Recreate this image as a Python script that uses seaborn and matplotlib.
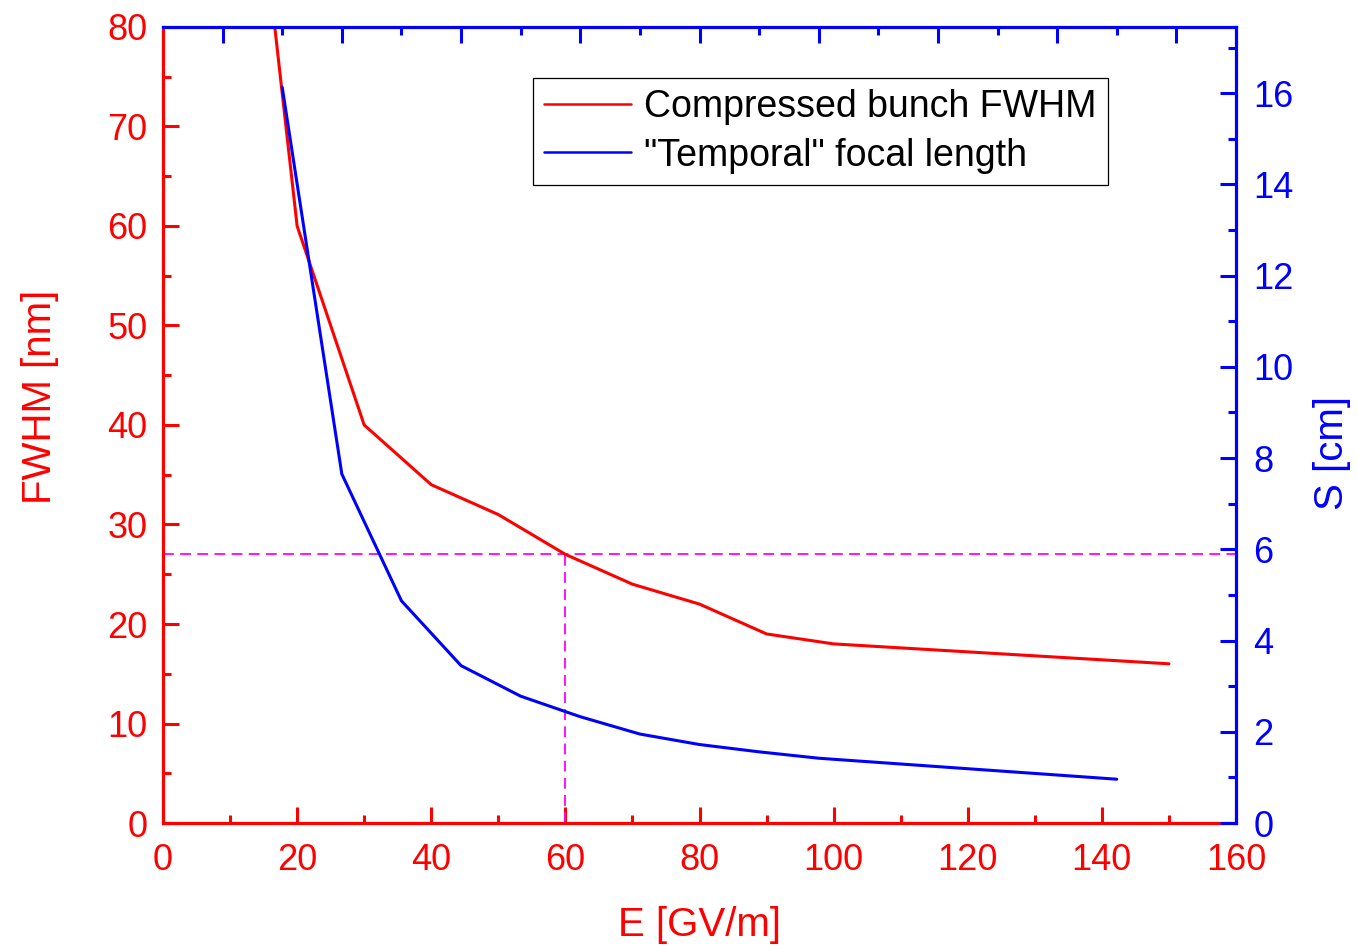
import matplotlib
matplotlib.use("Agg")
import matplotlib.pyplot as plt
import pandas as pd
import seaborn as sns
from matplotlib.ticker import MultipleLocator, FixedLocator, NullFormatter

# Compressed bunch width versus accelerating field
field_E = [15, 20, 30, 40, 50, 60, 70, 80, 90, 100, 150]
fwhm_nm = [90, 60, 40, 34, 31, 27, 24, 22, 19, 18, 16]

# "Temporal" focal length, plotted against the auxiliary top scale (0..18)
focal_pos = [2, 3, 4, 5, 6, 7, 8, 9, 10, 11, 16]
focal_S_cm = [16.13, 7.65, 4.87, 3.45, 2.78, 2.33, 1.95, 1.72, 1.56, 1.42, 0.96]

# Working point marked with dashed guides
ref_E = 60
ref_fwhm = 27

x_ticks = [0, 20, 40, 60, 80, 100, 120, 140, 160]
left_ticks = [0, 10, 20, 30, 40, 50, 60, 70, 80]
right_ticks = [0, 2, 4, 6, 8, 10, 12, 14, 16]

series_labels = ["Compressed bunch FWHM", '"Temporal" focal length']

sns.set_style("ticks")
plt.rcParams["font.family"] = ["Liberation Sans", "DejaVu Sans"]

RED = "#ff0000"
BLUE = "#0000ff"
MAG = "#ff00ff"
LW = 2.2

fig = plt.figure(figsize=(13.58, 9.46), dpi=100)
rect = [163 / 1358, 1 - 823 / 946, 1073 / 1358, 796 / 946]
ax = fig.add_axes(rect)
ax_s = fig.add_axes(rect)
ax_s.patch.set_visible(False)

df_red = pd.DataFrame({"E": field_E, "FWHM": fwhm_nm})
df_blue = pd.DataFrame({"pos": focal_pos, "S": focal_S_cm})

sns.lineplot(data=df_red, x="E", y="FWHM", ax=ax, color=RED, lw=LW,
             label=series_labels[0], legend=False)
sns.lineplot(data=df_blue, x="pos", y="S", ax=ax_s, color=BLUE, lw=LW,
             label=series_labels[1], legend=False)

ax.axhline(ref_fwhm, color=MAG, lw=1.3, ls=(0, (6, 3.5)), zorder=1)
ax.vlines(ref_E, 0, ref_fwhm, color=MAG, lw=1.3, ls=(0, (6, 3.5)), zorder=1)

ax.set_xlim(0, 160)
ax.set_ylim(0, 80)
ax_s.set_xlim(0, 18)
ax_s.set_ylim(0, 17.45)

# primary axes: bottom and left in red
for side in ["top", "right"]:
    ax.spines[side].set_visible(False)
for side in ["bottom", "left"]:
    ax.spines[side].set_color(RED)
    ax.spines[side].set_linewidth(2.3)
ax.xaxis.set_major_locator(FixedLocator(x_ticks))
ax.xaxis.set_minor_locator(MultipleLocator(10))
ax.yaxis.set_major_locator(FixedLocator(left_ticks))
ax.yaxis.set_minor_locator(MultipleLocator(5))
ax.tick_params(axis="both", which="both", direction="in", colors=RED,
               labelcolor=RED, width=2.2, labelsize=26, pad=11,
               top=False, right=False)
ax.tick_params(axis="x", which="both", pad=14.5)
ax.tick_params(which="major", length=11.5)
ax.tick_params(which="minor", length=6)

# secondary axes: top and right in blue
for side in ["bottom", "left"]:
    ax_s.spines[side].set_visible(False)
for side in ["top", "right"]:
    ax_s.spines[side].set_visible(True)
    ax_s.spines[side].set_color(BLUE)
    ax_s.spines[side].set_linewidth(2.3)
ax_s.xaxis.tick_top()
ax_s.yaxis.tick_right()
ax_s.yaxis.set_label_position("right")
ax_s.xaxis.set_major_locator(FixedLocator(list(range(1, 18, 2))))
ax_s.xaxis.set_minor_locator(FixedLocator(list(range(2, 17, 2))))
ax_s.xaxis.set_major_formatter(NullFormatter())
ax_s.yaxis.set_major_locator(FixedLocator(right_ticks))
ax_s.yaxis.set_minor_locator(MultipleLocator(1))
ax_s.tick_params(axis="both", which="both", direction="in", colors=BLUE,
                 labelcolor=BLUE, width=2.2, labelsize=26, pad=12.5,
                 bottom=False, left=False, labelbottom=False, labelleft=False)
ax_s.tick_params(which="major", length=11.5)
ax_s.tick_params(which="minor", length=6)

ax.set_xlabel("E [GV/m]", color=RED, fontsize=29)
ax.set_ylabel("FWHM [nm]", color=RED, fontsize=29)
ax_s.set_ylabel("S [cm]", color=BLUE, fontsize=29)
ax_s.set_xlabel("")
ax.xaxis.set_label_coords(0.5, -0.104)
ax.yaxis.set_label_coords(-0.097, 0.535)
ax_s.yaxis.set_label_coords(1.072, 0.465)

handles = ax.get_lines()[:1] + ax_s.get_lines()[:1]
leg = ax_s.legend(handles, series_labels, loc="upper left",
                  bbox_to_anchor=(533 / 1358, 1 - 78 / 946),
                  bbox_transform=fig.transFigure, fontsize=27,
                  frameon=True, fancybox=False, framealpha=1,
                  edgecolor="black", handlelength=2.3, handletextpad=0.36,
                  labelspacing=0.33, borderpad=0.3, borderaxespad=0)
leg.get_frame().set_linewidth(0.9)
for line in leg.get_lines():
    line.set_linewidth(1.8)
for txt in leg.get_texts():
    txt.set_color("black")

fig.savefig("out.png", dpi=100)
